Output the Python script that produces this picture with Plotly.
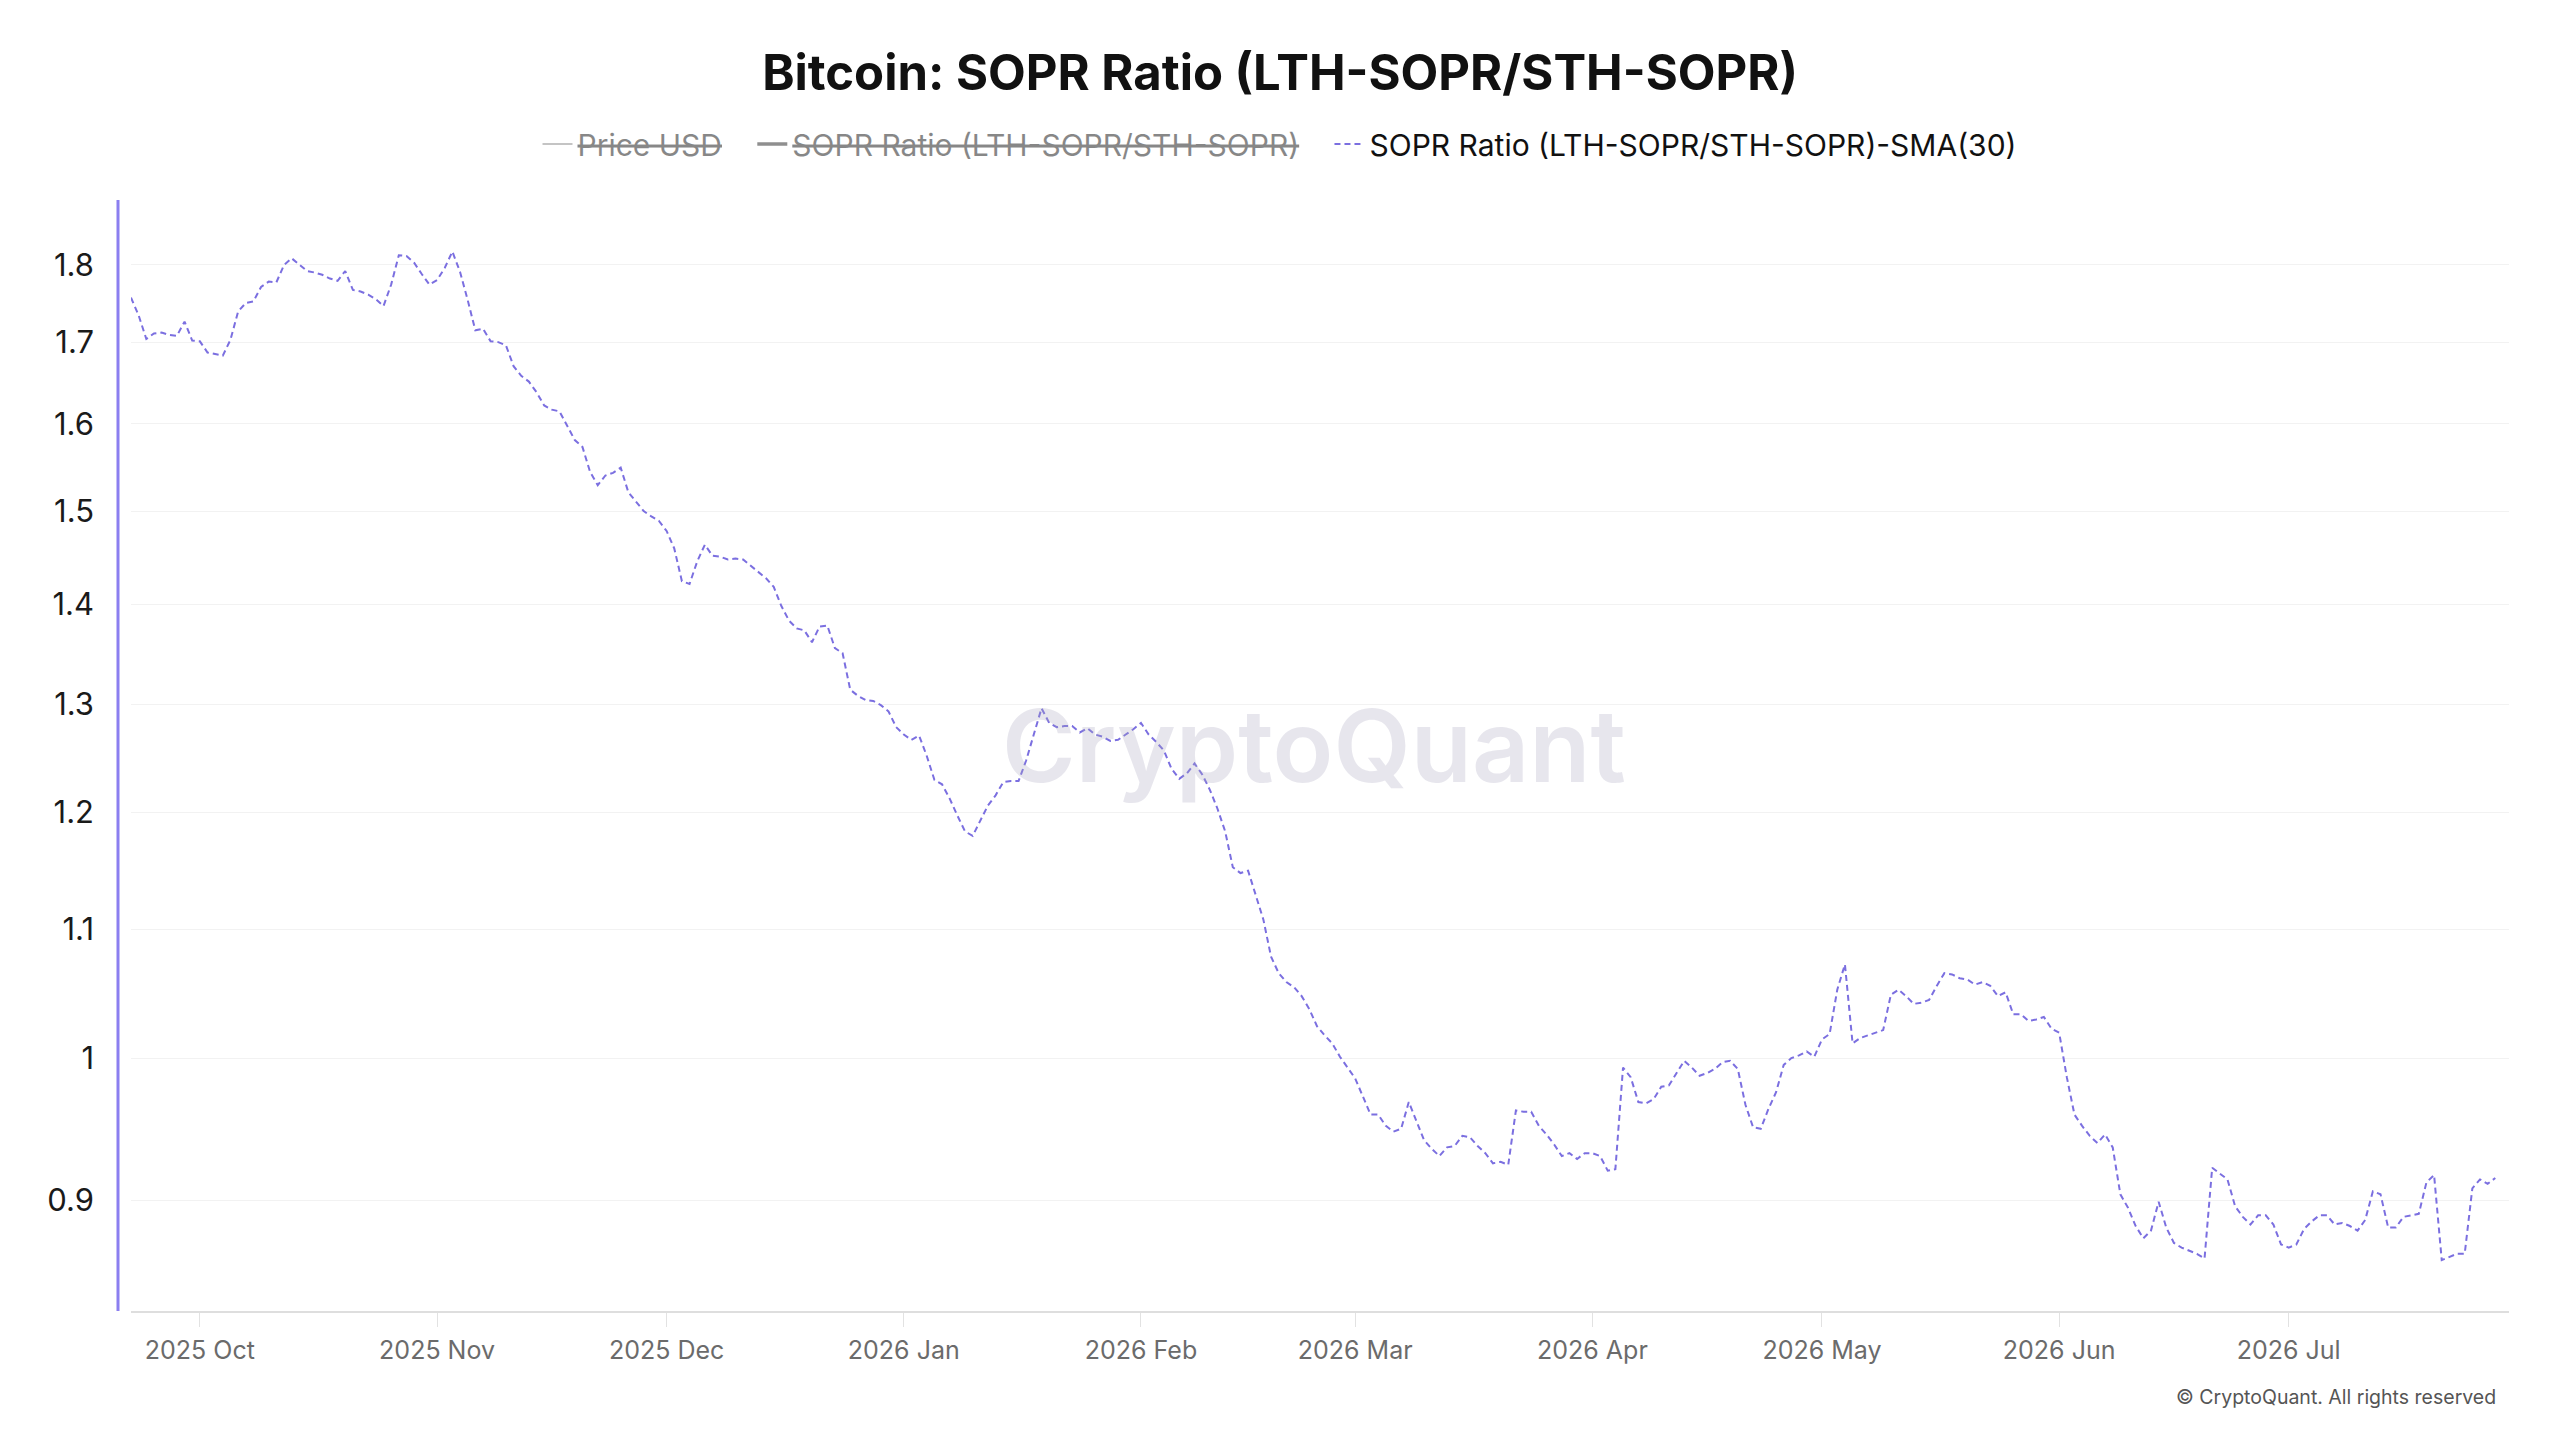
import pandas as pd
import plotly.graph_objects as go

# ---- data: SOPR Ratio (LTH-SOPR/STH-SOPR) SMA(30), daily from 2025-09-22 ----
start_date = "2025-09-22"
sma_2025_09 = [1.757, 1.734, 1.704, 1.711, 1.712, 1.709, 1.708, 1.726, 1.702]
sma_2025_10 = [1.701, 1.687, 1.685, 1.683, 1.703, 1.739, 1.750, 1.752, 1.771, 1.778,
               1.777, 1.800, 1.809, 1.801, 1.792, 1.790, 1.787, 1.782, 1.779, 1.792,
               1.767, 1.765, 1.761, 1.755, 1.746, 1.774, 1.813, 1.812, 1.803, 1.788, 1.774]
sma_2025_11 = [1.780, 1.796, 1.818, 1.791, 1.754, 1.715, 1.717, 1.701, 1.700, 1.696,
               1.670, 1.658, 1.651, 1.638, 1.622, 1.617, 1.615, 1.597, 1.581, 1.573,
               1.544, 1.529, 1.540, 1.543, 1.549, 1.521, 1.511, 1.500, 1.494, 1.489]
sma_2025_12 = [1.478, 1.459, 1.424, 1.421, 1.445, 1.463, 1.451, 1.450, 1.447, 1.448,
               1.447, 1.440, 1.433, 1.427, 1.418, 1.398, 1.383, 1.375, 1.373, 1.361,
               1.377, 1.378, 1.355, 1.350, 1.314, 1.308, 1.304, 1.303, 1.299, 1.293, 1.278]
sma_2026_01 = [1.271, 1.266, 1.270, 1.251, 1.229, 1.225, 1.212, 1.197, 1.183, 1.179,
               1.192, 1.206, 1.215, 1.227, 1.228, 1.228, 1.247, 1.271, 1.296, 1.282,
               1.278, 1.279, 1.279, 1.273, 1.277, 1.271, 1.269, 1.265, 1.266, 1.271, 1.276]
sma_2026_02 = [1.282, 1.271, 1.264, 1.256, 1.239, 1.230, 1.235, 1.244, 1.234, 1.220,
               1.203, 1.183, 1.152, 1.147, 1.149, 1.128, 1.108, 1.078, 1.065, 1.058,
               1.054, 1.047, 1.037, 1.024, 1.017, 1.011, 1.001, 0.993]
sma_2026_03 = [0.985, 0.972, 0.959, 0.959, 0.951, 0.947, 0.949, 0.968, 0.955, 0.941,
               0.935, 0.930, 0.936, 0.937, 0.944, 0.943, 0.937, 0.932, 0.925, 0.926,
               0.924, 0.962, 0.961, 0.961, 0.951, 0.945, 0.938, 0.930, 0.932, 0.928, 0.932]
sma_2026_04 = [0.932, 0.930, 0.920, 0.921, 0.993, 0.986, 0.968, 0.967, 0.970, 0.979,
               0.980, 0.989, 0.998, 0.993, 0.987, 0.989, 0.992, 0.997, 0.998, 0.992,
               0.966, 0.950, 0.949, 0.963, 0.975, 0.995, 1.000, 1.002, 1.005, 1.001]
sma_2026_05 = [1.014, 1.018, 1.052, 1.072, 1.011, 1.015, 1.017, 1.019, 1.021, 1.048,
               1.052, 1.047, 1.041, 1.042, 1.044, 1.055, 1.065, 1.064, 1.061, 1.060,
               1.056, 1.058, 1.055, 1.047, 1.050, 1.033, 1.033, 1.028, 1.029, 1.031, 1.022]
sma_2026_06 = [1.019, 0.986, 0.959, 0.951, 0.944, 0.939, 0.945, 0.936, 0.904, 0.895,
               0.883, 0.875, 0.880, 0.899, 0.882, 0.872, 0.869, 0.867, 0.865, 0.862,
               0.922, 0.918, 0.914, 0.896, 0.889, 0.884, 0.890, 0.890, 0.884, 0.871]
sma_2026_07 = [0.869, 0.871, 0.881, 0.886, 0.890, 0.890, 0.884, 0.885, 0.883, 0.880,
               0.887, 0.906, 0.904, 0.882, 0.882, 0.889, 0.890, 0.891, 0.912, 0.917,
               0.861, 0.863, 0.865, 0.865, 0.908, 0.914, 0.911, 0.915]

sma_values = (sma_2025_09 + sma_2025_10 + sma_2025_11 + sma_2025_12 + sma_2026_01 +
              sma_2026_02 + sma_2026_03 + sma_2026_04 + sma_2026_05 + sma_2026_06 + sma_2026_07)
dates = pd.date_range(start_date, periods=len(sma_values), freq="D")

x_tick_vals = ["2025-10-01", "2025-11-01", "2025-12-01", "2026-01-01", "2026-02-01",
               "2026-03-01", "2026-04-01", "2026-05-01", "2026-06-01", "2026-07-01"]
x_tick_text = ["2025 Oct", "2025 Nov", "2025 Dec", "2026 Jan", "2026 Feb",
               "2026 Mar", "2026 Apr", "2026 May", "2026 Jun", "2026 Jul"]
y_tick_vals = [0.9, 1.0, 1.1, 1.2, 1.3, 1.4, 1.5, 1.6, 1.7, 1.8]
y_tick_text = ["0.9", "1", "1.1", "1.2", "1.3", "1.4", "1.5", "1.6", "1.7", "1.8"]

FONT = "Inter, 'Noto Sans', sans-serif"
PURPLE = "#7b6fe0"
GAP = "&nbsp;&nbsp;&nbsp;"

fig = go.Figure()
# hidden (toggled-off) series: shown only as legend entries
fig.add_trace(go.Scatter(x=[dates[0]], y=[None], name="<s>Price USD</s>" + GAP, mode="lines",
                         line=dict(color="#8a8a8a", width=2), visible="legendonly"))
fig.add_trace(go.Scatter(x=[dates[0]], y=[None],
                         name="<s>SOPR Ratio (LTH-SOPR/STH-SOPR)</s>" + GAP,
                         mode="lines", line=dict(color="#222222", width=3.5), visible="legendonly"))
fig.add_trace(go.Scatter(x=dates, y=sma_values, name="SOPR Ratio (LTH-SOPR/STH-SOPR)-SMA(30)",
                         mode="lines", line=dict(color=PURPLE, width=2, dash="6px,4px")))

fig.update_layout(
    width=2560, height=1440,
    margin=dict(l=118, r=51, t=200, b=129),
    paper_bgcolor="white", plot_bgcolor="white",
    font=dict(family=FONT, color="#111111"),
    title=dict(text="Bitcoin: SOPR Ratio (LTH-SOPR/STH-SOPR)",
               font=dict(size=49, color="#111111", weight=700, family=FONT),
               x=0.5, xref="container", xanchor="center",
               y=1 - 73 / 1440, yref="container", yanchor="middle"),
    legend=dict(orientation="h", xref="container", yref="container",
                x=0.5, xanchor="center", y=1 - 144 / 1440, yanchor="middle",
                font=dict(size=30, color="#111111", family=FONT),
                itemwidth=30, bgcolor="rgba(0,0,0,0)"),
    showlegend=True,
    xaxis=dict(type="date", domain=[13 / 2391, 1],
               range=["2025-09-22 00:00", "2026-07-29 19:00"],
               tickvals=x_tick_vals, ticktext=x_tick_text,
               ticks="outside", ticklen=14, tickcolor="#e2e2e2", tickwidth=1,
               showline=True, linecolor="#dedede", linewidth=2,
               showgrid=False, zeroline=False, ticklabelstandoff=2,
               tickfont=dict(size=25, color="#6b6b6b", family=FONT)),
    yaxis=dict(type="log", range=[-0.08139, 0.27619],
               tickvals=y_tick_vals, ticktext=y_tick_text,
               showgrid=True, gridcolor="#f2f2f2", gridwidth=1,
               showline=False, zeroline=False, ticks="",
               ticklabelstandoff=36,
               tickfont=dict(size=31, color="#1a1a1a", family=FONT)),
    shapes=[dict(type="line", xref="paper", yref="paper", x0=0, x1=0, y0=0, y1=1,
                 line=dict(color="#8b7ff0", width=3), layer="above")],
    annotations=[
        dict(text="CryptoQuant", x=0.5, y=0.509, xref="paper", yref="paper",
             xanchor="center", yanchor="middle", showarrow=False,
             font=dict(size=100, color="rgba(170,166,190,0.28)", weight=600, family=FONT)),
        dict(text="© CryptoQuant. All rights reserved", x=0.9954, y=-0.0774,
             xref="paper", yref="paper", xanchor="right", yanchor="middle",
             showarrow=False, font=dict(size=19.5, color="#555555", family=FONT)),
    ],
)

fig.write_html("out.html")
